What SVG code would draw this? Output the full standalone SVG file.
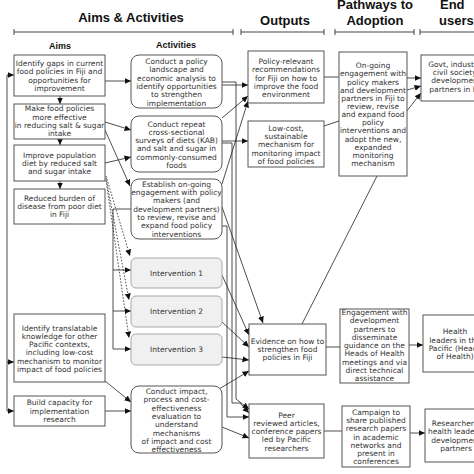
<svg xmlns="http://www.w3.org/2000/svg" width="474" height="474" viewBox="0 0 474 474">
<defs>
<marker id="ah" markerUnits="userSpaceOnUse" markerWidth="7" markerHeight="7" refX="6.5" refY="3" orient="auto"><path d="M0,0 L6.5,3 L0,6 z" fill="#111"/></marker>
<style>
.t{font-family:"DejaVu Sans",Verdana,sans-serif;font-size:7.5px;fill:#333;text-anchor:middle}
.h{font-family:"Liberation Sans",Arial,sans-serif;font-weight:bold;font-size:13px;fill:#111;text-anchor:middle}
.sh{font-family:"Liberation Sans",Arial,sans-serif;font-weight:bold;font-size:9px;fill:#111;text-anchor:middle}
.b{fill:#fff;stroke:#555;stroke-width:1}
.i{fill:#f0f0f0;stroke:#a8a8a8;stroke-width:1}
.c{fill:none;stroke:#222;stroke-width:0.8}
.a{marker-end:url(#ah)}
.d{stroke-dasharray:1.6,1.6}
.br{fill:none;stroke:#444;stroke-width:1}
</style>
</defs>
<rect width="474" height="474" fill="#fff"/>

<g id="headers">
<text class="h" x="131" y="22">Aims &amp; Activities</text>
<text class="h" x="285" y="25">Outputs</text>
<text class="h" x="375" y="9">Pathways to</text>
<text class="h" x="375" y="25">Adoption</text>
<text class="h" x="440" y="9" style="text-anchor:start">End</text>
<text class="h" x="439" y="25" style="text-anchor:start">users</text>
<path class="br" d="M14,32 H233 M14,29 V35 M233,29 V35"/>
<path class="br" d="M241,32 H324 M241,29 V35 M324,29 V35"/>
<path class="br" d="M335,32 H414 M335,29 V35 M414,29 V35"/>
<path class="br" d="M420,32 H474 M420,29 V35"/>
<text class="sh" x="60" y="49">Aims</text>
<text class="sh" x="176" y="48">Activities</text>
</g>

<g id="connectors">
<path class="c a" d="M7,411 V75 H14"/>
<path class="c a" d="M7,362 H14"/>
<path class="c a" d="M7,411 H14"/>
<path class="c a" d="M60,96 V104"/>
<path class="c a" d="M60,139 V145"/>
<path class="c a" d="M60,181 V189"/>
<path class="c a" d="M105,81 H131"/>
<path class="c a" d="M105,122 L131,130"/>
<path class="c a" d="M105,130 L130,186"/>
<path class="c a" d="M105,163 L131,157"/>
<path class="c a d" d="M106,176 L130,256"/>
<path class="c a d" d="M106,178 L129,300"/>
<path class="c a d" d="M106,180 L129,338"/>
<path class="c a" d="M131,209 H113 V349 H131"/>
<path class="c a" d="M113,270 H131"/>
<path class="c a" d="M113,311 H131"/>
<path class="c a" d="M105,381 L131,402"/>
<path class="c a" d="M105,411 H131"/>
<path class="c a" d="M222,85 H248"/>
<path class="c a" d="M222,118 L248,96"/>
<path class="c a" d="M222,184 L248,101"/>
<path class="c a" d="M222,141 H248"/>
<path class="c a" d="M222,82 H236 V399 L249,409"/>
<path class="c a" d="M222,143 H232 V403 H240 L249,413"/>
<path class="c a" d="M222,226 H227 V417 H249"/>
<path class="c a" d="M222,207 L263,323"/>
<path class="c a" d="M222,275 L249,335"/>
<path class="c a" d="M222,322 L249,347"/>
<path class="c a" d="M222,357 L249,360"/>
<path class="c a" d="M219,389 L249,371"/>
<path class="c a" d="M222,427 L249,438"/>
<path class="c" d="M324,77 H339"/>
<path class="c" d="M324,126 L339,121"/>
<path class="c" d="M302,324 L377,176"/>
<path class="c" d="M326,347 H340"/>
<path class="c" d="M324,431 H342"/>
<path class="c a" d="M407,78 H421"/>
<path class="c a" d="M407,90 L421,86"/>
<path class="c a" d="M406,112 L421,93"/>
<path class="c a" d="M409,345 H423"/>
<path class="c a" d="M410,433 H425"/>
</g>

<g id="aim1"><rect class="b" x="14" y="55" width="91" height="41"/>
<text class="t" x="59.5" y="66"><tspan x="59.5">Identify gaps in current</tspan><tspan x="59.5" dy="8.3">food policies in Fiji and</tspan><tspan x="59.5" dy="8.3">opportunities for</tspan><tspan x="59.5" dy="8.3">improvement</tspan></text></g>

<g id="aim2"><rect class="b" x="14" y="104" width="91" height="35"/>
<text class="t" x="59.5" y="111.3"><tspan x="59.5">Make food policies</tspan><tspan x="59.5" dy="8.3">more effective</tspan><tspan x="59.5" dy="8.3">in reducing salt &amp; sugar</tspan><tspan x="59.5" dy="8.3">intake</tspan></text></g>

<g id="aim3"><rect class="b" x="14" y="145" width="91" height="36"/>
<text class="t" x="59.5" y="157.5"><tspan x="59.5">Improve population</tspan><tspan x="59.5" dy="8.3">diet  by reduced salt</tspan><tspan x="59.5" dy="8.3">and sugar intake</tspan></text></g>

<g id="aim4"><rect class="b" x="14" y="189" width="91" height="35"/>
<text class="t" x="59.5" y="200.5"><tspan x="59.5">Reduced burden of</tspan><tspan x="59.5" dy="8.3">disease from poor diet</tspan><tspan x="59.5" dy="8.3">in Fiji</tspan></text></g>

<g id="aim5"><rect class="b" x="14" y="314" width="91" height="68"/>
<text class="t" x="59.5" y="330.5"><tspan x="59.5">Identify translatable</tspan><tspan x="59.5" dy="8.3">knowledge for other</tspan><tspan x="59.5" dy="8.3">Pacific contexts,</tspan><tspan x="59.5" dy="8.3">including low-cost</tspan><tspan x="59.5" dy="8.3">mechanism to monitor</tspan><tspan x="59.5" dy="8.3">impact of food policies</tspan></text></g>

<g id="aim6"><rect class="b" x="14" y="396" width="91" height="30"/>
<text class="t" x="59.5" y="405.4"><tspan x="59.5">Build capacity for</tspan><tspan x="59.5" dy="8.3">implementation</tspan><tspan x="59.5" dy="8.3">research</tspan></text></g>

<g id="act1"><rect class="b" x="131" y="55" width="91" height="53" rx="8"/>
<text class="t" x="176.5" y="64"><tspan x="176.5">Conduct a policy</tspan><tspan x="176.5" dy="8.3">landscape and</tspan><tspan x="176.5" dy="8.3">economic analysis to</tspan><tspan x="176.5" dy="8.3">identify opportunities</tspan><tspan x="176.5" dy="8.3">to strengthen</tspan><tspan x="176.5" dy="8.3">implementation</tspan></text></g>

<g id="act2"><rect class="b" x="131" y="116" width="91" height="56" rx="8"/>
<text class="t" x="176.5" y="126.5"><tspan x="176.5">Conduct repeat</tspan><tspan x="176.5" dy="8.3">cross-sectional</tspan><tspan x="176.5" dy="8.3">surveys of diets (KAB)</tspan><tspan x="176.5" dy="8.3">and salt and sugar in</tspan><tspan x="176.5" dy="8.3">commonly-consumed</tspan><tspan x="176.5" dy="8.3">foods</tspan></text></g>

<g id="act3"><rect class="b" x="131" y="179" width="91" height="60" rx="8"/>
<text class="t" x="176.5" y="186.8"><tspan x="176.5">Establish on-going</tspan><tspan x="176.5" dy="8.3">engagement with policy</tspan><tspan x="176.5" dy="8.3">makers (and</tspan><tspan x="176.5" dy="8.3">development partners)</tspan><tspan x="176.5" dy="8.3">to review, revise and</tspan><tspan x="176.5" dy="8.3">expand food policy</tspan><tspan x="176.5" dy="8.3">interventions</tspan></text></g>

<g id="int1"><rect class="i" x="131" y="258" width="91" height="30" rx="5"/>
<text class="t" x="176.5" y="275.7">Intervention 1</text></g>
<g id="int2"><rect class="i" x="131" y="296" width="91" height="31" rx="5"/>
<text class="t" x="176.5" y="314.2">Intervention 2</text></g>
<g id="int3"><rect class="i" x="131" y="334" width="91" height="31" rx="5"/>
<text class="t" x="176.5" y="352.2">Intervention 3</text></g>

<g id="act4"><rect class="b" x="131" y="386" width="91" height="67" rx="8"/>
<text class="t" x="176.5" y="394"><tspan x="176.5">Conduct impact,</tspan><tspan x="176.5" dy="8.3">process and cost-</tspan><tspan x="176.5" dy="8.3">effectiveness</tspan><tspan x="176.5" dy="8.3">evaluation to</tspan><tspan x="176.5" dy="8.3">understand</tspan><tspan x="176.5" dy="8.3">mechanisms</tspan><tspan x="176.5" dy="8.3">of impact and cost</tspan><tspan x="176.5" dy="8.3">effectiveness</tspan></text></g>

<g id="out1"><rect class="b" x="248" y="51" width="76" height="52"/>
<text class="t" x="286" y="64"><tspan x="286">Policy-relevant</tspan><tspan x="286" dy="8.3">recommendations</tspan><tspan x="286" dy="8.3">for Fiji on how to</tspan><tspan x="286" dy="8.3">improve the food</tspan><tspan x="286" dy="8.3">environment</tspan></text></g>

<g id="out2"><rect class="b" x="248" y="121" width="76" height="46"/>
<text class="t" x="286" y="130.8"><tspan x="286">Low-cost,</tspan><tspan x="286" dy="8.3">sustainable</tspan><tspan x="286" dy="8.3">mechanism for</tspan><tspan x="286" dy="8.3">monitoring impact</tspan><tspan x="286" dy="8.3">of food policies</tspan></text></g>

<g id="out3"><rect class="b" x="249" y="324" width="77" height="51"/>
<text class="t" x="287.5" y="343.8"><tspan x="287.5">Evidence on how to</tspan><tspan x="287.5" dy="8.3">strengthen food</tspan><tspan x="287.5" dy="8.3">policies in Fiji</tspan></text></g>

<g id="out4"><rect class="b" x="249" y="404" width="75" height="54"/>
<text class="t" x="286.5" y="417.5"><tspan x="286.5">Peer</tspan><tspan x="286.5" dy="8.3">reviewed articles,</tspan><tspan x="286.5" dy="8.3">conference papers</tspan><tspan x="286.5" dy="8.3">led by Pacific</tspan><tspan x="286.5" dy="8.3">researchers</tspan></text></g>

<g id="path1"><rect class="b" x="339" y="52" width="68" height="124"/>
<text class="t" x="373" y="68.3"><tspan x="373">On-going</tspan><tspan x="373" dy="8.14">engagement with</tspan><tspan x="373" dy="8.14">policy makers</tspan><tspan x="373" dy="8.14">and development</tspan><tspan x="373" dy="8.14">partners in Fiji to</tspan><tspan x="373" dy="8.14">review, revise</tspan><tspan x="373" dy="8.14">and expand food</tspan><tspan x="373" dy="8.14">policy</tspan><tspan x="373" dy="8.14">interventions and</tspan><tspan x="373" dy="8.14">adopt the new,</tspan><tspan x="373" dy="8.14">expanded</tspan><tspan x="373" dy="8.14">monitoring</tspan><tspan x="373" dy="8.14">mechanism</tspan></text></g>

<g id="path2"><rect class="b" x="340" y="309" width="69" height="74"/>
<text class="t" x="374.5" y="315"><tspan x="374.5">Engagement with</tspan><tspan x="374.5" dy="8.25">development</tspan><tspan x="374.5" dy="8.25">partners to</tspan><tspan x="374.5" dy="8.25">disseminate</tspan><tspan x="374.5" dy="8.25">guidance on the</tspan><tspan x="374.5" dy="8.25">Heads of Health</tspan><tspan x="374.5" dy="8.25">meetings and via</tspan><tspan x="374.5" dy="8.25">direct technical</tspan><tspan x="374.5" dy="8.25">assistance</tspan></text></g>

<g id="path3"><rect class="b" x="342" y="406" width="68" height="61"/>
<text class="t" x="376" y="415"><tspan x="376">Campaign to</tspan><tspan x="376" dy="8.2">share published</tspan><tspan x="376" dy="8.2">research papers</tspan><tspan x="376" dy="8.2">in academic</tspan><tspan x="376" dy="8.2">networks and</tspan><tspan x="376" dy="8.2">present in</tspan><tspan x="376" dy="8.2">conferences</tspan></text></g>

<g id="end1"><rect class="b" x="421" y="55" width="80" height="46"/>
<text class="t" x="456" y="66.8"><tspan x="456">Govt, industry,</tspan><tspan x="456" dy="8.3">civil society,</tspan><tspan x="456" dy="8.3">development</tspan><tspan x="456" dy="8.3">partners in Fiji</tspan></text></g>

<g id="end2"><rect class="b" x="423" y="315" width="80" height="57"/>
<text class="t" x="455" y="334.4"><tspan x="455">Health</tspan><tspan x="455" dy="8.33">leaders in the</tspan><tspan x="455" dy="8.33">Pacific (Heads</tspan><tspan x="455" dy="8.33">of Health)</tspan></text></g>

<g id="end3"><rect class="b" x="425" y="409" width="80" height="53"/>
<text class="t" x="456" y="426"><tspan x="456">Researchers,</tspan><tspan x="456" dy="8.33">health leaders,</tspan><tspan x="456" dy="8.33">development</tspan><tspan x="456" dy="8.33">partners</tspan></text></g>
</svg>
